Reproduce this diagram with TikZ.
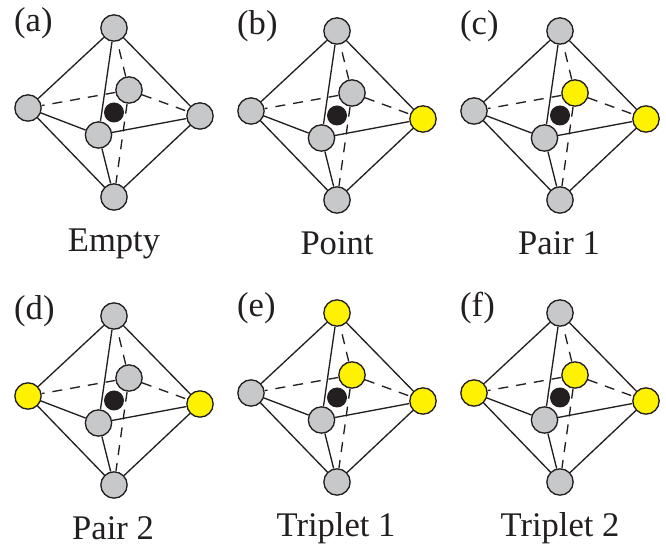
\documentclass[tikz,border=0pt]{standalone}
\usepackage{fontspec}
\setmainfont{Liberation Serif}
\definecolor{atomgray}{HTML}{C7C8CA}
\definecolor{atomyellow}{HTML}{FFF200}
\definecolor{atomblack}{HTML}{231F20}
\tikzset{
    site/.style={circle, draw=atomblack, line width=0.04cm, minimum size=0.79cm, inner sep=0pt},
    core/.style={circle, fill=atomblack, minimum size=0.6cm, inner sep=0pt},
    bond/.style={draw=atomblack, line width=0.04cm},
    backbond/.style={bond, dash pattern=on 0.3cm off 0.24cm},
    tag/.style={font=\fontsize{29.5}{32}\selectfont, text=atomblack, inner sep=0pt}
}
\begin{document}
\begin{tikzpicture}[x=0.03cm, y=-0.03cm]
    \useasboundingbox (0,0) rectangle (666,545);

    % One octahedron per panel: name/label/offset/site colours/caption
    \foreach \name/\lab/\dx/\dy/\ctop/\cleft/\cright/\cback/\cap/\capx in {
        a/(a)/0/0/atomgray/atomgray/atomgray/atomgray/Empty/114,
        b/(b)/223/3/atomgray/atomgray/atomyellow/atomgray/Point/114,
        c/(c)/446/3/atomgray/atomgray/atomyellow/atomyellow/Pair 1/113,
        d/(d)/0/288/atomgray/atomyellow/atomyellow/atomgray/Pair 2/113,
        e/(e)/223/285/atomyellow/atomgray/atomyellow/atomyellow/Triplet 1/113,
        f/(f)/446/285/atomgray/atomyellow/atomyellow/atomyellow/Triplet 2/114}
    {
        \begin{scope}[shift={(\dx,\dy)}]
            % Sites
            \node[site, fill=\ctop] (\name top) at (114,28) {};
            \node[site, fill=\cleft] (\name left) at (28,108) {};
            \node[site, fill=\cright] (\name right) at (200,116) {};
            \node[site, fill=atomgray] (\name bottom) at (114,197) {};
            \node[site, fill=atomgray] (\name front) at (98.5,135) {};
            \node[site, fill=\cback] (\name back) at (129,90) {};
            \node[core] (\name core) at (114,112.5) {};

            % Hidden edges
            \draw[backbond] (\name back) -- (\name top);
            \draw[backbond] (\name back) -- (\name left);
            \draw[backbond] (\name back) -- (\name right);
            \draw[backbond] (\name back) -- (\name bottom);

            % Visible edges
            \draw[bond] (\name top) -- (\name left);
            \draw[bond] (\name top) -- (\name right);
            \draw[bond] (\name top) -- (\name front);
            \draw[bond] (\name left) -- (\name front);
            \draw[bond] (\name right) -- (\name front);
            \draw[bond] (\name left) -- (\name bottom);
            \draw[bond] (\name right) -- (\name bottom);
            \draw[bond] (\name front) -- (\name bottom);

            % Texts
            \node[tag, anchor=base west] (\name lab) at (14,32) {\lab};
            \node[tag, anchor=base] (\name cap) at (\capx,252) {\cap};
        \end{scope}
    }
\end{tikzpicture}
\end{document}
